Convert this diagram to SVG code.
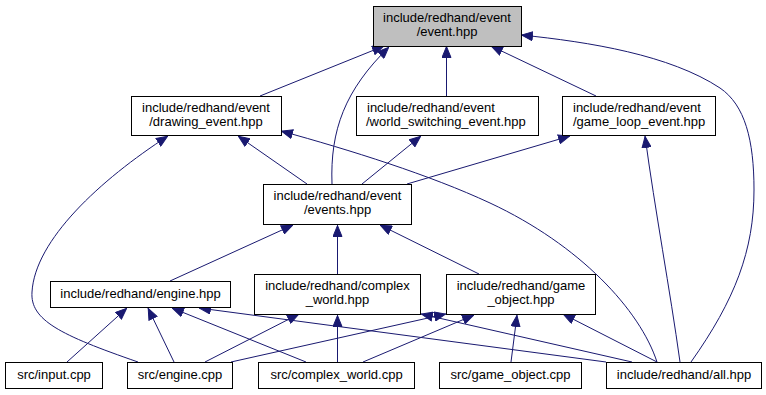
<svg xmlns="http://www.w3.org/2000/svg" width="766" height="395" viewBox="0 0 766 395">
  <style>
    .node rect { fill: #ffffff; stroke: #000000; stroke-width: 1; }
    .node.root rect { fill: #bfbfbf; }
    .node text { font-family: "Liberation Sans", Arial, sans-serif; font-size: 13px; fill: #000000; }
    .c { text-anchor: middle; }
    .l { text-anchor: start; }
    .edges path { fill: none; stroke: #191970; stroke-width: 1; marker-end: url(#arr); }
  </style>
  <defs>
    <marker id="arr" viewBox="0 0 12 10" refX="12" refY="5" markerWidth="12" markerHeight="10" markerUnits="userSpaceOnUse" orient="auto">
      <path d="M0.5,0.5 L11.5,5 L0.5,9.5 z" fill="#191970" stroke="#191970" stroke-width="1"/>
    </marker>
  </defs>
  <rect width="766" height="395" fill="#ffffff"/>

  <!-- include dependencies -->
  <g id="edges" class="edges">
    <!-- onto event.hpp -->
    <path d="M260,96 L384,46"/>
    <path d="M332,184 C330,130 345,90 389,47"/>
    <path d="M446.5,96 L446.5,46"/>
    <path d="M596,96 L491,46"/>
    <path d="M691,362 C735,300 754,250 754,190 C754,140 745,105 720,88 C670,55 590,42 521,35"/>
    <!-- onto drawing_event.hpp -->
    <path d="M307,184 L238,136"/>
    <path d="M657,362 C640,310 580,245 490,203 C430,175 350,150 281,131"/>
    <path d="M138,362 C60,335 30,320 32,292 C35,240 100,180 168,136"/>
    <!-- onto world_switching_event.hpp -->
    <path d="M362,184 L421,136"/>
    <!-- onto game_loop_event.hpp -->
    <path d="M407,184 L570,136"/>
    <path d="M680,362 C670,290 655,210 645,136"/>
    <!-- onto events.hpp -->
    <path d="M170,281 L293,225"/>
    <path d="M337.5,274 L337.5,225"/>
    <path d="M479,274 L380,225"/>
    <!-- onto engine.hpp -->
    <path d="M67,362 L127,308"/>
    <path d="M174,362 L148,308"/>
    <path d="M306,362 L172,308"/>
    <path d="M606,362 L199,308"/>
    <!-- onto complex_world.hpp -->
    <path d="M205,362 L299,314"/>
    <path d="M337.5,362 L337.5,315"/>
    <path d="M632,362 L421,314"/>
    <!-- onto game_object.hpp -->
    <path d="M231,362 L446,314"/>
    <path d="M363,362 L474,315"/>
    <path d="M511,362 L517,315"/>
    <path d="M657,362 L563,314"/>
  </g>

  <g id="node-event" class="node root">
    <rect x="373.5" y="6.5" width="148" height="40"/>
    <text class="c" x="447" y="22">include/redhand/event</text>
    <text class="c" x="447" y="36">/event.hpp</text>
  </g>
  <g id="node-drawing-event" class="node">
    <rect x="131.5" y="96.5" width="150" height="39"/>
    <text class="c" x="206" y="112">include/redhand/event</text>
    <text class="c" x="206" y="126">/drawing_event.hpp</text>
  </g>
  <g id="node-world-switching-event" class="node">
    <rect x="356.5" y="96.5" width="182" height="39"/>
    <text class="l" x="367" y="112">include/redhand/event</text>
    <text class="l" x="366" y="126">/world_switching_event.hpp</text>
  </g>
  <g id="node-game-loop-event" class="node">
    <rect x="562.5" y="96.5" width="153" height="39"/>
    <text class="l" x="573" y="112">include/redhand/event</text>
    <text class="l" x="573" y="126">/game_loop_event.hpp</text>
  </g>
  <g id="node-events" class="node">
    <rect x="263.5" y="184.5" width="148" height="40"/>
    <text class="c" x="337.5" y="200">include/redhand/event</text>
    <text class="c" x="337.5" y="214">/events.hpp</text>
  </g>
  <g id="node-engine-hpp" class="node">
    <rect x="50.5" y="281.5" width="180" height="26"/>
    <text class="c" x="140.5" y="298">include/redhand/engine.hpp</text>
  </g>
  <g id="node-complex-world-hpp" class="node">
    <rect x="254.5" y="274.5" width="166" height="40"/>
    <text class="c" x="337.5" y="290">include/redhand/complex</text>
    <text class="c" x="337.5" y="304">_world.hpp</text>
  </g>
  <g id="node-game-object-hpp" class="node">
    <rect x="446.5" y="274.5" width="149" height="40"/>
    <text class="c" x="521" y="290">include/redhand/game</text>
    <text class="c" x="521" y="304">_object.hpp</text>
  </g>
  <g id="node-input-cpp" class="node">
    <rect x="5.5" y="362.5" width="97" height="26"/>
    <text class="c" x="54" y="379">src/input.cpp</text>
  </g>
  <g id="node-engine-cpp" class="node">
    <rect x="127.5" y="362.5" width="105" height="26"/>
    <text class="c" x="180" y="379">src/engine.cpp</text>
  </g>
  <g id="node-complex-world-cpp" class="node">
    <rect x="258.5" y="362.5" width="156" height="26"/>
    <text class="c" x="336.5" y="379">src/complex_world.cpp</text>
  </g>
  <g id="node-game-object-cpp" class="node">
    <rect x="439.5" y="362.5" width="142" height="26"/>
    <text class="c" x="510.5" y="379">src/game_object.cpp</text>
  </g>
  <g id="node-all-hpp" class="node">
    <rect x="606.5" y="362.5" width="155" height="26"/>
    <text class="c" x="684" y="379">include/redhand/all.hpp</text>
  </g>
</svg>
